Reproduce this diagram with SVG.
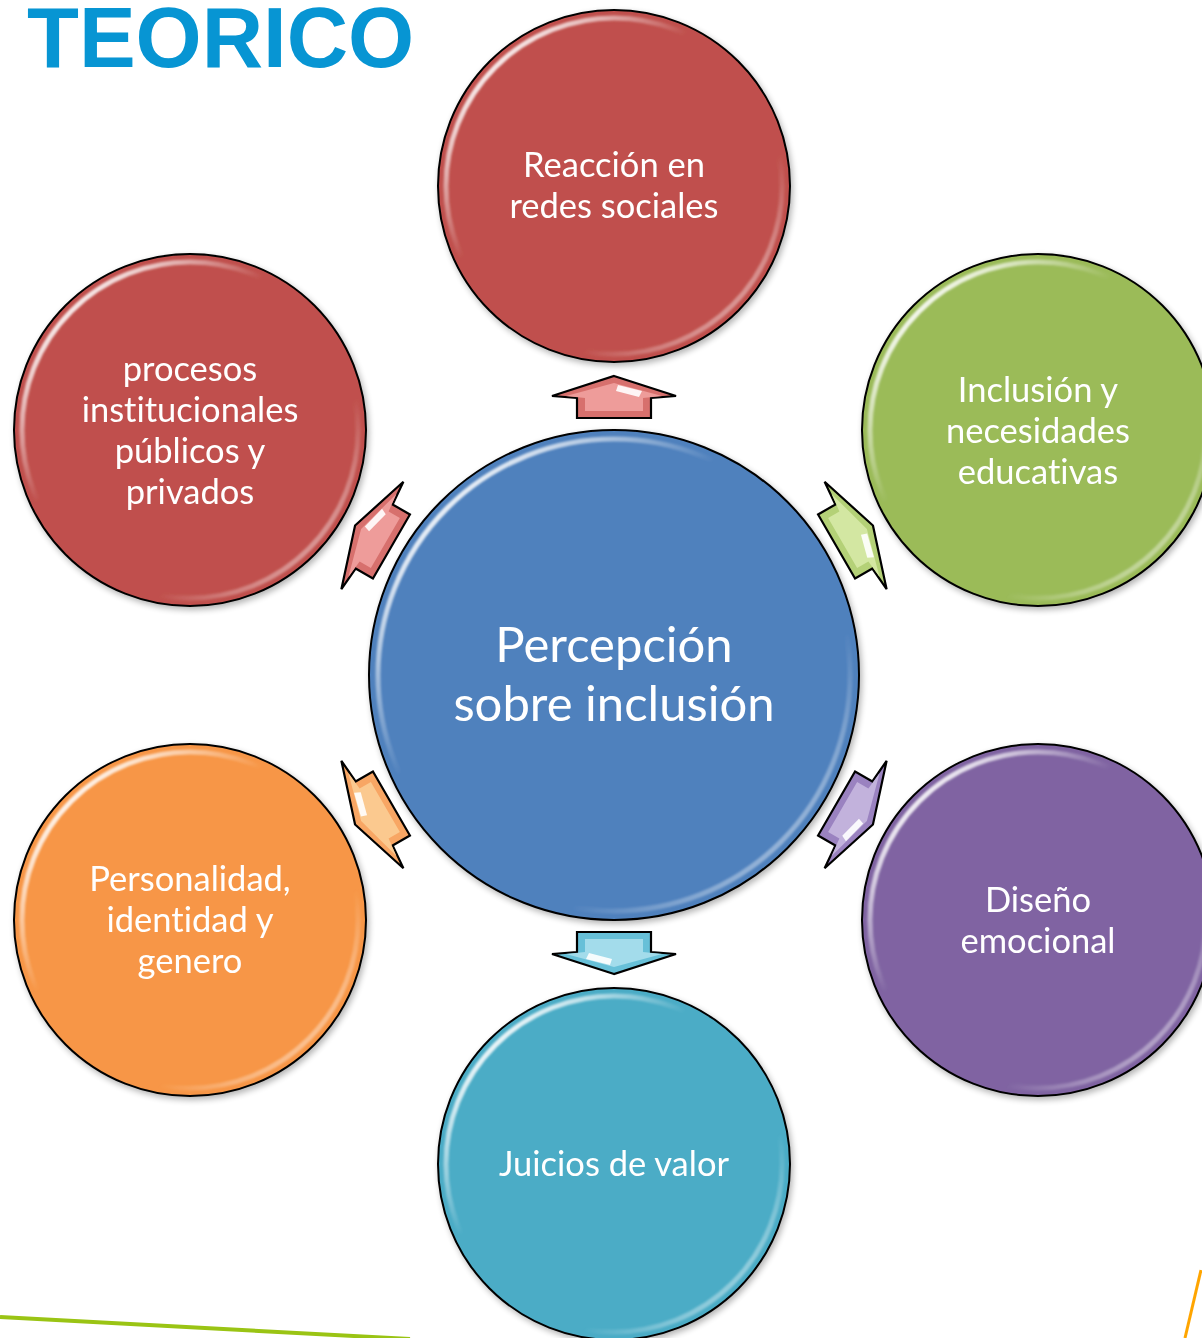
<svg xmlns="http://www.w3.org/2000/svg" width="1202" height="1338" viewBox="0 0 1202 1338">
<style>
.node-txt{font-family:Lato,"Open Sans","Liberation Sans",sans-serif;fill:#fff;text-anchor:middle;font-size:34.5px;font-variant-ligatures:none}
.center-txt{font-size:49px}
.ring{fill:none;stroke:url(#shine);stroke-width:5;filter:url(#soft)}
.edge{stroke:#000;stroke-width:2}
.arrow{stroke:#000;stroke-width:2.2;stroke-linejoin:miter}
.hl{fill:#fff;opacity:0.9}
</style>
<defs>
<linearGradient id="shine" x1="0" y1="0" x2="1" y2="1">
<stop offset="0.12" stop-color="#fff" stop-opacity="0.95"/>
<stop offset="0.38" stop-color="#fff" stop-opacity="0"/>
<stop offset="0.7" stop-color="#fff" stop-opacity="0"/>
<stop offset="0.92" stop-color="#fff" stop-opacity="0.55"/>
</linearGradient>
<filter id="soft" x="-10%" y="-10%" width="120%" height="120%"><feGaussianBlur stdDeviation="1.3"/></filter>
<filter id="shadow" x="-10%" y="-10%" width="125%" height="125%">
<feGaussianBlur in="SourceAlpha" stdDeviation="3"/>
<feOffset dx="2" dy="3" result="b"/>
<feComponentTransfer><feFuncA type="linear" slope="0.3"/></feComponentTransfer>
<feMerge><feMergeNode/><feMergeNode in="SourceGraphic"/></feMerge>
</filter>
<polygon id="arrowOuter" points="0,-21 62,-1 37,1 37,21 -37,21 -37,1 -62,-1"/>
<polygon id="arrowInner" points="0,-14 48,-1 29,1 29,14 -29,14 -29,1 -48,-1"/>
<polygon id="arrowHl" points="4,-12 28,-6 25,0 2,-6"/>
</defs>

<text x="27" y="67" font-family="Liberation Sans,Arial,sans-serif" font-weight="bold" font-size="85" fill="#0795D3">TEORICO</text>

<line x1="0" y1="1317" x2="410" y2="1339" stroke="#9AC414" stroke-width="4"/>
<line x1="1201" y1="1270" x2="1185" y2="1338" stroke="#FFA500" stroke-width="3"/>

<g id="connectors">
<g id="arrow-top" transform="translate(614,675) rotate(0) translate(0,-278)">
<use href="#arrowOuter" class="arrow" fill="#D7706D"/><use href="#arrowInner" fill="#EE9C9A"/><use href="#arrowHl" class="hl"/>
</g>
<g id="arrow-upright" transform="translate(614,675) rotate(60) translate(0,-278)">
<use href="#arrowOuter" class="arrow" fill="#B4D177"/><use href="#arrowInner" fill="#D3E7A2"/><use href="#arrowHl" class="hl"/>
</g>
<g id="arrow-downright" transform="translate(614,675) rotate(120) translate(0,-278)">
<use href="#arrowOuter" class="arrow" fill="#9A82C0"/><use href="#arrowInner" fill="#C2B2DC"/><use href="#arrowHl" class="hl"/>
</g>
<g id="arrow-bottom" transform="translate(614,675) rotate(180) translate(0,-278)">
<use href="#arrowOuter" class="arrow" fill="#67C0D8"/><use href="#arrowInner" fill="#A3DCEB"/><use href="#arrowHl" class="hl"/>
</g>
<g id="arrow-downleft" transform="translate(614,675) rotate(240) translate(0,-278)">
<use href="#arrowOuter" class="arrow" fill="#F8A664"/><use href="#arrowInner" fill="#FBC98F"/><use href="#arrowHl" class="hl"/>
</g>
<g id="arrow-upleft" transform="translate(614,675) rotate(300) translate(0,-278)">
<use href="#arrowOuter" class="arrow" fill="#D7706D"/><use href="#arrowInner" fill="#EE9C9A"/><use href="#arrowHl" class="hl"/>
</g>
</g>

<g id="node-center" filter="url(#shadow)">
<circle cx="614" cy="675" r="245" fill="#4F81BD" class="edge"/>
<circle cx="614" cy="675" r="236" class="ring"/>
<text class="node-txt center-txt" x="614" y="662">Percepción</text>
<text class="node-txt center-txt" x="614" y="721">sobre inclusión</text>
</g>

<g id="node-top" filter="url(#shadow)">
<circle cx="614" cy="186" r="176" fill="#C0504D" class="edge"/>
<circle cx="614" cy="186" r="168" class="ring"/>
<text class="node-txt" x="614" y="177">Reacción en</text>
<text class="node-txt" x="614" y="218">redes sociales</text>
</g>

<g id="node-upright" filter="url(#shadow)">
<circle cx="1038" cy="430" r="176" fill="#9BBB59" class="edge"/>
<circle cx="1038" cy="430" r="168" class="ring"/>
<text class="node-txt" x="1038" y="402">Inclusión y</text>
<text class="node-txt" x="1038" y="443">necesidades</text>
<text class="node-txt" x="1038" y="484">educativas</text>
</g>

<g id="node-downright" filter="url(#shadow)">
<circle cx="1038" cy="920" r="176" fill="#8064A2" class="edge"/>
<circle cx="1038" cy="920" r="168" class="ring"/>
<text class="node-txt" x="1038" y="912">Diseño</text>
<text class="node-txt" x="1038" y="953">emocional</text>
</g>

<g id="node-bottom" filter="url(#shadow)">
<circle cx="614" cy="1164" r="176" fill="#4BACC6" class="edge"/>
<circle cx="614" cy="1164" r="168" class="ring"/>
<text class="node-txt" x="614" y="1176">Juicios de valor</text>
</g>

<g id="node-downleft" filter="url(#shadow)">
<circle cx="190" cy="920" r="176" fill="#F79646" class="edge"/>
<circle cx="190" cy="920" r="168" class="ring"/>
<text class="node-txt" x="190" y="891">Personalidad,</text>
<text class="node-txt" x="190" y="932">identidad y</text>
<text class="node-txt" x="190" y="973">genero</text>
</g>

<g id="node-upleft" filter="url(#shadow)">
<circle cx="190" cy="430" r="176" fill="#C0504D" class="edge"/>
<circle cx="190" cy="430" r="168" class="ring"/>
<text class="node-txt" x="190" y="381">procesos</text>
<text class="node-txt" x="190" y="422">institucionales</text>
<text class="node-txt" x="190" y="463">públicos y</text>
<text class="node-txt" x="190" y="504">privados</text>
</g>
</svg>
